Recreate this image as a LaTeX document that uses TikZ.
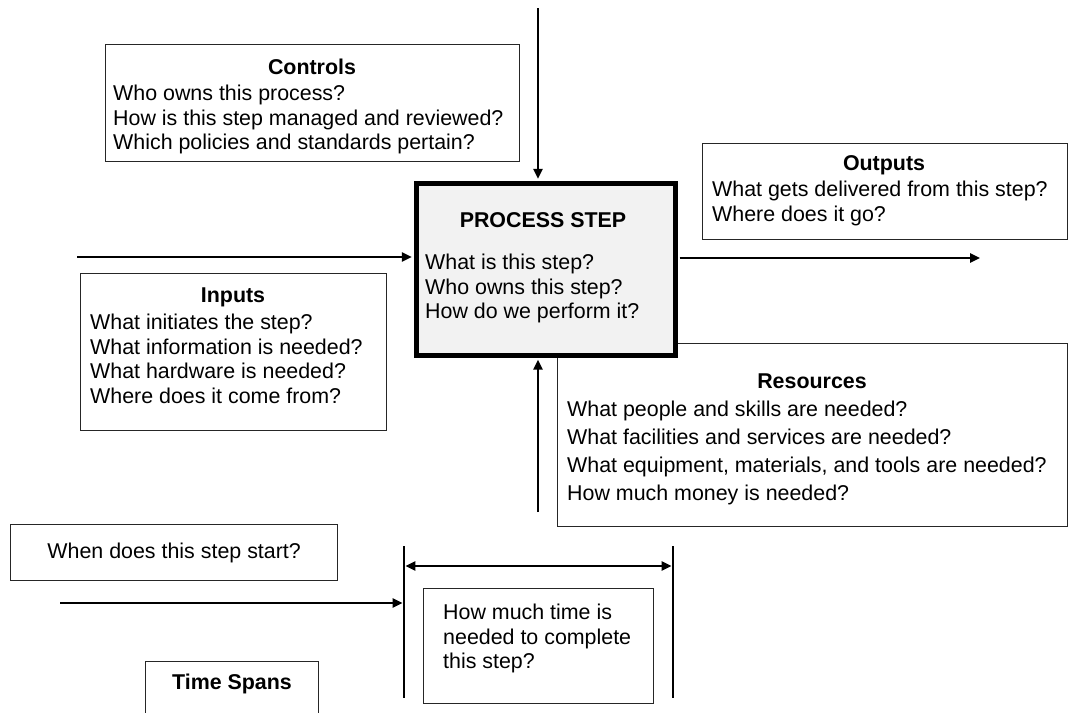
\documentclass[tikz,border=0pt]{standalone}
\usepackage{fontspec}
\setmainfont{Liberation Sans}
\usetikzlibrary{arrows.meta}
\begin{document}
\begin{tikzpicture}[x=1pt,y=-1pt,
  box/.style={draw=black!85, line width=1.3pt, fill=white, inner sep=0pt, anchor=north west},
  txt/.style={font=\fontsize{21.4}{24.5}\selectfont, inner sep=0pt, align=left, anchor=north west},
  ttl/.style={font=\fontsize{21.4}{24.5}\selectfont\bfseries, inner sep=0pt},
  conn/.style={line width=2.4pt, -{Triangle[length=10pt,width=9pt]}},
  bar/.style={line width=2.6pt}]
\useasboundingbox (0,0) rectangle (1075,712);

% Controls
\node[box, minimum width=414, minimum height=117] (ctrlbox) at (105,44) {};
\node[ttl] (ctrlT) at (312,67) {Controls};
\node[txt] (ctrlB) at (113,85) {Who owns this process?\\How is this step managed and reviewed?\\Which policies and standards pertain?};

% Outputs
\node[box, minimum width=365, minimum height=96] (outbox) at (702,143) {};
\node[ttl] (outT) at (884,165) {Outputs};
\node[txt] (outB) at (712,181) {What gets delivered from this step?\\Where does it go?};

% Inputs
\node[box, minimum width=306, minimum height=157] (inbox) at (80,273) {};
\node[ttl] (inT) at (233,297) {Inputs};
\node[txt] (inB) at (90,314) {What initiates the step?\\What information is needed?\\What hardware is needed?\\Where does it come from?};

% Resources
\node[box, minimum width=510, minimum height=183] (resbox) at (557,343) {};
\node[ttl] (resT) at (812,381) {Resources};
\node[txt, font=\fontsize{21.4}{28}\selectfont] (resB) at (567,401) {What people and skills are needed?\\What facilities and services are needed?\\What equipment, materials, and tools are needed?\\How much money is needed?};

% Process step (drawn above the Resources box)
\node[draw=black, line width=4.5pt, fill=black!5, inner sep=0pt, anchor=north west,
      minimum width=259, minimum height=172] (ps) at (414,181) {};
\node[ttl] (psT) at (543,220) {PROCESS STEP};
\node[txt] (psB) at (425,254) {What is this step?\\Who owns this step?\\How do we perform it?};

% connectors to process step
\coordinate (ctlT) at (538,8);
\coordinate (inL) at (77,257);
\coordinate (outR) at (980,258);
\coordinate (resS) at (538,512);
\draw[conn, shorten >=2.2pt] (ctlT) -- (ctlT |- ps.north);
\draw[conn, shorten >=2.2pt] (inL) -- (inL -| ps.west);
\draw[conn, shorten <=2.2pt] (outR -| ps.east) -- (outR);
\draw[conn, shorten >=2.2pt] (resS) -- (resS |- ps.south);

% Time spans
\node[box, minimum width=327, minimum height=56, font=\fontsize{21.4}{24.5}\selectfont] (whenbox) at (10,524) {When does this step start?};
\coordinate (barLt) at (404,546);
\coordinate (barLb) at (404,698);
\coordinate (barRt) at (673,546);
\coordinate (barRb) at (673,698);
\draw[bar] (barLt) -- (barLb);
\draw[bar] (barRt) -- (barRb);
\coordinate (spanA) at (404,566);
\coordinate (spanB) at (673,566);
\draw[line width=2.4pt, {Triangle[length=10pt,width=9pt]}-{Triangle[length=10pt,width=9pt]}, shorten <=1.3pt, shorten >=1.3pt] (spanA) -- (spanB);
\coordinate (tS) at (60,603);
\draw[conn, shorten >=1.3pt] (tS) -- (tS -| barLb);
\node[box, minimum width=230, minimum height=115] (timebox) at (423,588) {};
\node[txt] (timeB) at (443,604) {How much time is\\needed to complete\\this step?};
\node[box, minimum width=173, minimum height=80] (spanbox) at (145,661) {};
\node[ttl] (spanT) at (232,684) {Time Spans};
\end{tikzpicture}
\end{document}
